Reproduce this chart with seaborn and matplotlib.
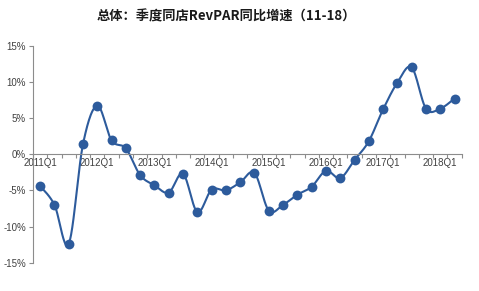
import numpy as np
import pandas as pd
import matplotlib
matplotlib.use("Agg")
import matplotlib.pyplot as plt
import seaborn as sns

# ---- data ----
quarters = [f"{y}Q{q}" for y in range(2011, 2019) for q in range(1, 5)][:30]
growth = [-4.4, -7.0, -12.4, 1.4, 6.7, 1.9, 0.8, -2.9,
          -4.3, -5.3, -2.7, -8.0, -4.9, -5.0, -3.9, -2.6,
          -7.8, -7.0, -5.6, -4.5, -2.3, -3.3, -0.8, 1.8,
          6.2, 9.9, 12.0, 6.3, 6.3, 7.7]
yticks = [-15, -10, -5, 0, 5, 10, 15]
title = "总体：季度同店RevPAR同比增速（11-18）"

sns.set_theme(style="white")
plt.rcParams['font.family'] = ['Liberation Sans', 'DejaVu Sans']

fig = plt.figure(figsize=(4.79, 2.91), dpi=100)
ax = fig.add_axes([33/479, 1-262.7/291, (461.7-33)/479, (262.7-45.7)/291])

color = "#2D5B9C"
x = np.arange(len(growth))
y = np.array(growth, dtype=float)

# Excel-like smoothed line (Bezier, tension 1/6)
px = np.concatenate([[x[0]], x, [x[-1]]])
py = np.concatenate([[y[0]], y, [y[-1]]])
t = np.linspace(0, 1, 25)
sx, sy = [], []
for i in range(1, len(px) - 2):
    p0 = np.array([px[i], py[i]])
    p3 = np.array([px[i+1], py[i+1]])
    c1 = p0 + (np.array([px[i+1], py[i+1]]) - np.array([px[i-1], py[i-1]])) / 6
    c2 = p3 - (np.array([px[i+2], py[i+2]]) - np.array([px[i], py[i]])) / 6
    tt = t[:, None]
    pts = (1-tt)**3*p0 + 3*(1-tt)**2*tt*c1 + 3*(1-tt)*tt**2*c2 + tt**3*p3
    sx.extend(pts[:, 0]); sy.extend(pts[:, 1])
smooth = pd.DataFrame({"x": sx, "y": sy})
sns.lineplot(data=smooth, x="x", y="y", sort=False, color=color, lw=1.5, ax=ax, estimator=None)
df = pd.DataFrame({"x": x, "y": y})
sns.scatterplot(data=df, x="x", y="y", color=color, s=50, edgecolor=color, linewidth=0, ax=ax, zorder=3)

ax.set_xlim(-0.5, len(growth) - 0.5)
ax.set_ylim(-15, 15)
ax.set_xlabel(""); ax.set_ylabel("")

for s in ["top", "right"]:
    ax.spines[s].set_visible(False)
ax.spines["left"].set_color("#8c8c8c")
ax.spines["left"].set_linewidth(0.8)
ax.spines["bottom"].set_position(("data", 0))
ax.spines["bottom"].set_color("#8c8c8c")
ax.spines["bottom"].set_linewidth(0.8)

ax.set_yticks(yticks)
ax.set_yticklabels([f"{v}%" for v in yticks], fontsize=7, color="#404040")
ax.tick_params(axis="y", which="major", direction="out", length=3, width=0.8, color="#8c8c8c", pad=2, left=True)

ax.set_xticks(x[::4])
ax.set_xticklabels(quarters[::4], fontsize=7, color="#404040")
ax.set_xticks(np.arange(-0.5, len(growth), 1), minor=True)
ax.tick_params(axis="x", which="major", length=0, pad=3, bottom=True)
ax.tick_params(axis="x", which="minor", direction="out", length=3, width=0.8, color="#8c8c8c", bottom=True)
ax.grid(False)

fig.text(226/479, 1-16/291, title, ha="center", va="center", fontsize=9.5, fontweight="bold",
         color="#1a1a1a", family=['Noto Sans CJK SC', 'DejaVu Sans'])

fig.savefig("out.png", dpi=100)
